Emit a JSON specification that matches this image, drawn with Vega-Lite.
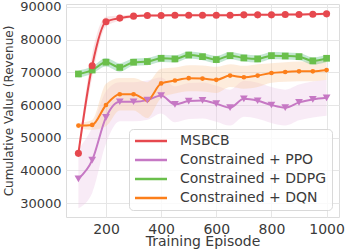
{
  "$schema": "https://vega.github.io/schema/vega-lite/v6.json",
  "width": 273,
  "height": 213,
  "autosize": {"type": "none"},
  "padding": {"left": 66, "top": 4, "right": 7, "bottom": 32},
  "background": "white",
  "config": {
    "font": "DejaVu Sans",
    "view": {"stroke": "#dcdcdc", "strokeWidth": 1},
    "axis": {"gridColor": "#e6e6e6", "gridWidth": 1, "domain": false, "ticks": false, "labelColor": "#3a3a3a", "titleColor": "#3a3a3a", "labelFont": "DejaVu Sans", "titleFont": "DejaVu Sans", "titleFontWeight": "normal", "labelOverlap": false},
    "axisY": {"labelOverlap": false}
  },
  "data": {"values": [
    {"episode":100,"method":"MSBCB","value":45200,"lower":44200,"upper":46200},
    {"episode":150,"method":"MSBCB","value":72000,"lower":68500,"upper":75500},
    {"episode":200,"method":"MSBCB","value":85500,"lower":84000,"upper":87000},
    {"episode":250,"method":"MSBCB","value":86600,"lower":85800,"upper":87400},
    {"episode":300,"method":"MSBCB","value":87200,"lower":86800,"upper":87600},
    {"episode":350,"method":"MSBCB","value":87400,"lower":87000,"upper":87800},
    {"episode":400,"method":"MSBCB","value":87400,"lower":87000,"upper":87800},
    {"episode":450,"method":"MSBCB","value":87500,"lower":87100,"upper":87900},
    {"episode":500,"method":"MSBCB","value":87500,"lower":87100,"upper":87900},
    {"episode":550,"method":"MSBCB","value":87500,"lower":87100,"upper":87900},
    {"episode":600,"method":"MSBCB","value":87500,"lower":87100,"upper":87900},
    {"episode":650,"method":"MSBCB","value":87500,"lower":87100,"upper":87900},
    {"episode":700,"method":"MSBCB","value":87600,"lower":87200,"upper":88000},
    {"episode":750,"method":"MSBCB","value":87600,"lower":87200,"upper":88000},
    {"episode":800,"method":"MSBCB","value":87600,"lower":87200,"upper":88000},
    {"episode":850,"method":"MSBCB","value":87700,"lower":87300,"upper":88100},
    {"episode":900,"method":"MSBCB","value":87700,"lower":87300,"upper":88100},
    {"episode":950,"method":"MSBCB","value":87800,"lower":87400,"upper":88200},
    {"episode":1000,"method":"MSBCB","value":87900,"lower":87500,"upper":88300},
    {"episode":100,"method":"Constrained + PPO","value":37400,"lower":28400,"upper":46400},
    {"episode":150,"method":"Constrained + PPO","value":43100,"lower":33100,"upper":53100},
    {"episode":200,"method":"Constrained + PPO","value":56200,"lower":48200,"upper":64200},
    {"episode":250,"method":"Constrained + PPO","value":61000,"lower":55000,"upper":67000},
    {"episode":300,"method":"Constrained + PPO","value":61000,"lower":55000,"upper":67000},
    {"episode":350,"method":"Constrained + PPO","value":61500,"lower":55500,"upper":67500},
    {"episode":400,"method":"Constrained + PPO","value":62900,"lower":57400,"upper":68400},
    {"episode":450,"method":"Constrained + PPO","value":60200,"lower":54700,"upper":65700},
    {"episode":500,"method":"Constrained + PPO","value":61200,"lower":55700,"upper":66700},
    {"episode":550,"method":"Constrained + PPO","value":61400,"lower":55900,"upper":66900},
    {"episode":600,"method":"Constrained + PPO","value":60400,"lower":54900,"upper":65900},
    {"episode":650,"method":"Constrained + PPO","value":59200,"lower":53700,"upper":64700},
    {"episode":700,"method":"Constrained + PPO","value":61900,"lower":56400,"upper":67400},
    {"episode":750,"method":"Constrained + PPO","value":61300,"lower":55800,"upper":66800},
    {"episode":800,"method":"Constrained + PPO","value":60000,"lower":54500,"upper":65500},
    {"episode":850,"method":"Constrained + PPO","value":59200,"lower":53700,"upper":64700},
    {"episode":900,"method":"Constrained + PPO","value":60800,"lower":55300,"upper":66300},
    {"episode":950,"method":"Constrained + PPO","value":61700,"lower":56200,"upper":67200},
    {"episode":1000,"method":"Constrained + PPO","value":62200,"lower":56700,"upper":67700},
    {"episode":100,"method":"Constrained + DDPG","value":69500,"lower":68400,"upper":70600},
    {"episode":150,"method":"Constrained + DDPG","value":70700,"lower":69600,"upper":71800},
    {"episode":200,"method":"Constrained + DDPG","value":73100,"lower":71800,"upper":74400},
    {"episode":250,"method":"Constrained + DDPG","value":71500,"lower":70200,"upper":72800},
    {"episode":300,"method":"Constrained + DDPG","value":73100,"lower":72000,"upper":74200},
    {"episode":350,"method":"Constrained + DDPG","value":73300,"lower":72200,"upper":74400},
    {"episode":400,"method":"Constrained + DDPG","value":74300,"lower":73200,"upper":75400},
    {"episode":450,"method":"Constrained + DDPG","value":74100,"lower":73000,"upper":75200},
    {"episode":500,"method":"Constrained + DDPG","value":75300,"lower":74200,"upper":76400},
    {"episode":550,"method":"Constrained + DDPG","value":74800,"lower":73700,"upper":75900},
    {"episode":600,"method":"Constrained + DDPG","value":73900,"lower":72800,"upper":75000},
    {"episode":650,"method":"Constrained + DDPG","value":75100,"lower":74000,"upper":76200},
    {"episode":700,"method":"Constrained + DDPG","value":74400,"lower":73300,"upper":75500},
    {"episode":750,"method":"Constrained + DDPG","value":74100,"lower":73000,"upper":75200},
    {"episode":800,"method":"Constrained + DDPG","value":75100,"lower":74000,"upper":76200},
    {"episode":850,"method":"Constrained + DDPG","value":75000,"lower":73900,"upper":76100},
    {"episode":900,"method":"Constrained + DDPG","value":74800,"lower":73700,"upper":75900},
    {"episode":950,"method":"Constrained + DDPG","value":73500,"lower":72400,"upper":74600},
    {"episode":1000,"method":"Constrained + DDPG","value":74300,"lower":73200,"upper":75400},
    {"episode":100,"method":"Constrained + DQN","value":53700,"lower":52900,"upper":54500},
    {"episode":150,"method":"Constrained + DQN","value":53900,"lower":52400,"upper":55400},
    {"episode":200,"method":"Constrained + DQN","value":60000,"lower":53500,"upper":66500},
    {"episode":250,"method":"Constrained + DQN","value":63300,"lower":58300,"upper":68300},
    {"episode":300,"method":"Constrained + DQN","value":63300,"lower":58300,"upper":68300},
    {"episode":350,"method":"Constrained + DQN","value":61500,"lower":56000,"upper":67000},
    {"episode":400,"method":"Constrained + DQN","value":66600,"lower":62100,"upper":71100},
    {"episode":450,"method":"Constrained + DQN","value":67500,"lower":63500,"upper":71500},
    {"episode":500,"method":"Constrained + DQN","value":68200,"lower":64200,"upper":72200},
    {"episode":550,"method":"Constrained + DQN","value":68100,"lower":64100,"upper":72100},
    {"episode":600,"method":"Constrained + DQN","value":67700,"lower":63700,"upper":71700},
    {"episode":650,"method":"Constrained + DQN","value":69000,"lower":65500,"upper":72500},
    {"episode":700,"method":"Constrained + DQN","value":68500,"lower":65000,"upper":72000},
    {"episode":750,"method":"Constrained + DQN","value":69000,"lower":65500,"upper":72500},
    {"episode":800,"method":"Constrained + DQN","value":69800,"lower":66800,"upper":72800},
    {"episode":850,"method":"Constrained + DQN","value":70100,"lower":67100,"upper":73100},
    {"episode":900,"method":"Constrained + DQN","value":70300,"lower":67300,"upper":73300},
    {"episode":950,"method":"Constrained + DQN","value":70300,"lower":67300,"upper":73300},
    {"episode":1000,"method":"Constrained + DQN","value":70700,"lower":67700,"upper":73700}
  ]},
  "encoding": {
    "x": {"field": "episode", "type": "quantitative",
      "scale": {"domain": [55, 1045], "nice": false, "zero": false},
      "axis": {"values": [200, 400, 600, 800, 1000], "format": "d", "title": "Training Episode", "labelFontSize": 14, "titleFontSize": 14, "labelPadding": 5, "titlePadding": -2, "labelFlush": false, "labelOverlap": false}},
    "y": {"field": "value", "type": "quantitative",
      "scale": {"domain": [25718, 90918], "nice": false, "zero": false},
      "axis": {"values": [30000, 40000, 50000, 60000, 70000, 80000, 90000], "format": "d", "title": "Cumulative Value (Revenue)", "labelFontSize": 13, "titleFontSize": 12, "labelPadding": 5, "titlePadding": 4, "labelOverlap": false}}
  },
  "layer": [
    {
      "transform": [{"filter": "datum.method === 'Constrained + PPO'"}],
      "mark": {"type": "area", "opacity": 0.35, "interpolate": "monotone", "color": "#ebc6e5"},
      "encoding": {"y": {"field": "lower", "type": "quantitative"}, "y2": {"field": "upper"}}
    },
    {
      "transform": [{"filter": "datum.method === 'Constrained + DQN'"}],
      "mark": {"type": "area", "opacity": 0.35, "interpolate": "monotone", "color": "#f9c99b"},
      "encoding": {"y": {"field": "lower", "type": "quantitative"}, "y2": {"field": "upper"}}
    },
    {
      "transform": [{"filter": "datum.method === 'Constrained + DDPG'"}],
      "mark": {"type": "area", "opacity": 0.35, "interpolate": "monotone", "color": "#54b87e"},
      "encoding": {"y": {"field": "lower", "type": "quantitative"}, "y2": {"field": "upper"}}
    },
    {
      "transform": [{"filter": "datum.method === 'MSBCB'"}],
      "mark": {"type": "area", "opacity": 0.3, "interpolate": "monotone", "color": "#f0a6ad"},
      "encoding": {"y": {"field": "lower", "type": "quantitative"}, "y2": {"field": "upper"}}
    },
    {
      "mark": {"type": "line", "strokeWidth": 2, "interpolate": "monotone"},
      "encoding": {
        "color": {"field": "method", "type": "nominal",
          "scale": {"domain": ["MSBCB", "Constrained + PPO", "Constrained + DDPG", "Constrained + DQN"], "range": ["#e6484e", "#c678c4", "#6abf4b", "#fc7f1a"]},
          "legend": {
            "title": null, "orient": "bottom-right", "offset": 7, "padding": 5,
            "labelFont": "DejaVu Sans", "labelFontSize": 14, "labelColor": "#3a3a3a",
            "strokeColor": "#d9d9d9", "fillColor": "rgba(255,255,255,0.8)", "cornerRadius": 4,
            "symbolType": "M-3.2,0H3.2", "symbolSize": 100, "symbolStrokeWidth": 2.5, "symbolOffset": 10, "labelOffset": 22, "rowPadding": 5
          }}
      }
    },
    {
      "transform": [{"filter": "datum.method === 'Constrained + DQN'"}],
      "mark": {"type": "point", "filled": true, "opacity": 1, "shape": "circle", "size": 22, "color": "#fc7f1a"},
      "encoding": {}
    },
    {
      "transform": [{"filter": "datum.method === 'Constrained + DDPG'"}],
      "mark": {"type": "point", "filled": true, "opacity": 1, "shape": "square", "size": 45, "color": "#6abf4b"},
      "encoding": {}
    },
    {
      "transform": [{"filter": "datum.method === 'Constrained + PPO'"}],
      "mark": {"type": "point", "filled": true, "opacity": 1, "shape": "triangle-down", "size": 60, "color": "#c678c4"},
      "encoding": {}
    },
    {
      "transform": [{"filter": "datum.method === 'MSBCB'"}],
      "mark": {"type": "point", "filled": true, "opacity": 1, "shape": "circle", "size": 50, "color": "#e6484e"},
      "encoding": {}
    }
  ]
}
